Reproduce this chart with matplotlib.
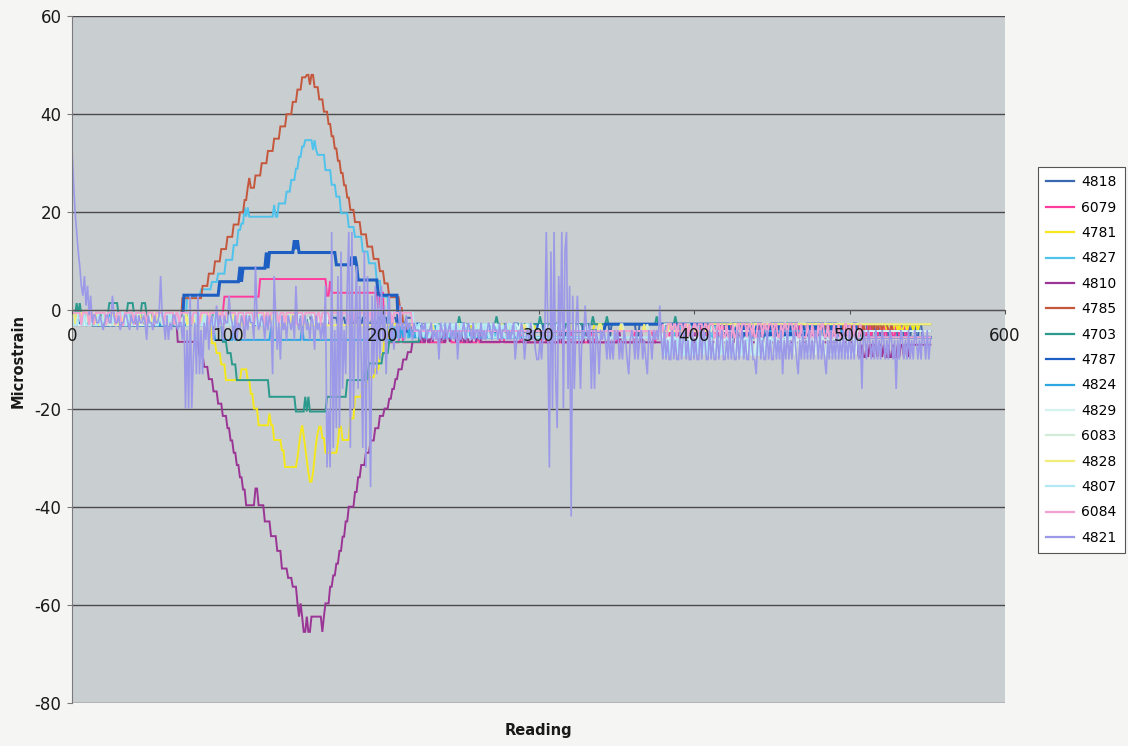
import numpy as np
import matplotlib
matplotlib.use("Agg")
import matplotlib.pyplot as plt
from matplotlib.lines import Line2D

plt.rcParams["axes.unicode_minus"] = False
plt.rcParams["font.family"] = ["DejaVu Sans"]

N_READINGS = 553
readings = np.arange(N_READINGS)

series_names = ["4818", "6079", "4781", "4827", "4810", "4785", "4703", "4787",
                "4824", "4829", "6083", "4828", "4807", "6084", "4821"]
series_colors = ["#3A68B0", "#FF3D9E", "#F4E81C", "#4FC3EC", "#9A3596", "#C4573C",
                 "#2B9A8C", "#1D5EC2", "#2DA6E3", "#D5F3EE", "#D3ECD8", "#F2EC78",
                 "#B3E8F5", "#F3A2CF", "#9C9AE8"]
series_widths = [1.4, 1.4, 1.4, 1.4, 1.4, 1.4, 1.4, 2.2, 1.4, 1.4, 1.4, 1.4, 1.4, 1.4, 1.2]

# Loaded gauges: (first reading, microstrain) held until the next entry
SHAPE_6079 = [(98, 2.8), (121, 6.4), (164, 3.0), (166, 6.0), (167, 3.6), (197, 0.5), (198, 3.6), (201, None)]
SHAPE_4781 = [(88, -3.0), (90, -6.7), (93, -8.7), (96, -11.0), (99, -14.2), (109, -12.0), (113, -14.2),
              (115, -17.0), (117, -20.0), (120, -23.4), (127, -21.0), (128, -23.4), (130, -26.4),
              (135, -28.5), (137, -31.9), (145, -30.0), (146, -27.5), (147, -25.0), (148, -23.4),
              (149, -25.5), (150, -28.0), (151, -30.5), (152, -33.0), (153, -34.9), (155, -33.0),
              (156, -30.0), (157, -27.0), (158, -25.0), (159, -23.7), (161, -26.0), (163, -29.0),
              (171, -27.0), (172, -23.7), (174, -26.4), (179, -22.0), (182, -17.6), (187, -15.5),
              (190, -13.6), (195, -12.0), (198, -9.0), (201, -6.0), (204, None)]
SHAPE_4827 = [(74, 2.8), (83, 4.3), (90, 5.8), (94, 7.5), (99, 10.3), (104, 13.3), (107, 16.4),
              (109, 17.7), (111, 21.0), (112, 19.1), (113, 21.0), (114, 19.1), (130, 21.5),
              (131, 19.1), (133, 21.8), (138, 24.2), (141, 26.6), (144, 28.9), (146, 31.3),
              (148, 33.4), (150, 34.7), (155, 32.7), (156, 34.7), (157, 32.7), (158, 31.7),
              (163, 28.6), (167, 25.6), (170, 23.2), (173, 19.8), (178, 17.0), (182, 15.0),
              (187, 12.0), (191, 9.6), (196, 6.0), (199, 2.8), (204, None)]
SHAPE_4810 = [(68, -6.4), (82, -9.0), (85, -11.5), (88, -14.0), (91, -16.5), (94, -19.0), (97, -21.5),
              (100, -24.0), (102, -26.5), (104, -29.0), (106, -31.5), (108, -34.0), (110, -36.5),
              (112, -39.7), (118, -36.3), (120, -39.7), (124, -43.0), (128, -46.0), (132, -49.0),
              (135, -52.6), (139, -54.5), (142, -56.3), (145, -59.7), (146, -62.4), (147, -59.7),
              (148, -62.4), (149, -65.5), (151, -62.4), (152, -65.5), (154, -62.4), (161, -65.5),
              (162, -62.4), (163, -59.7), (166, -56.3), (168, -54.0), (170, -51.6), (172, -49.0),
              (174, -46.1), (176, -43.0), (178, -40.0), (182, -37.0), (184, -34.0), (186, -31.5),
              (189, -29.0), (192, -26.5), (195, -24.0), (198, -21.5), (201, -20.0), (204, -18.0),
              (206, -16.0), (208, -14.0), (210, -12.0), (213, -10.0), (216, -8.5), (219, -6.4),
              (222, None)]
SHAPE_4785 = [(71, 2.5), (84, 5.0), (88, 7.5), (92, 10.0), (96, 12.5), (100, 15.0), (104, 17.5),
              (108, 20.0), (111, 22.5), (113, 25.0), (114, 27.0), (115, 25.0), (118, 27.5),
              (122, 30.0), (126, 32.5), (130, 35.0), (134, 37.5), (138, 40.0), (142, 42.5),
              (145, 45.0), (148, 47.5), (151, 48.0), (153, 46.0), (154, 48.0), (156, 45.5),
              (159, 43.0), (162, 40.5), (165, 38.0), (167, 35.5), (169, 33.0), (171, 30.5),
              (173, 28.0), (175, 25.5), (177, 23.0), (179, 20.5), (182, 18.0), (186, 15.5),
              (190, 13.0), (194, 10.5), (198, 8.0), (201, 5.5), (204, 2.7), (211, 0.5), (213, None)]
SHAPE_4703 = [(95, -3.0), (97, -6.4), (100, -8.7), (103, -11.0), (106, -14.2), (127, -17.6),
              (144, -20.6), (150, -17.6), (151, -20.6), (152, -17.6), (153, -20.6), (164, -17.6),
              (177, -14.2), (189, -12.0), (190, -14.2), (191, -10.8), (200, -8.7), (204, -6.4),
              (224, None)]
SHAPE_4787 = [(72, 3.1), (95, 5.85), (108, 8.9), (109, 5.85), (110, 8.6), (125, 11.8), (126, 8.6),
              (127, 11.8), (143, 14.3), (144, 12.5), (145, 14.3), (146, 11.8), (170, 9.3),
              (180, 11.0), (181, 9.3), (182, 11.0), (183, 9.3), (184, 6.2), (197, 3.1), (210, None)]
SHAPE_4824 = [(92, -6.0), (104, -3.0), (105, -6.0), (128, -3.5), (129, -6.0), (148, -3.0),
              (149, -6.0), (207, None)]

# Unloaded readings: (from, to, levels, run lengths in base 36 cycling through the levels)
BAND_4818 = [
    (0, 220, (-1.5, -3.0), "3212413221532143122314213251231421322153214231251324123142315231243121532412314213213241231"),
    (220, 417, (-2.8, -5.5), "k2a1f3c2h1d2b3e1g2f2c1a381"),
    (417, 553, (-2.8, -5.5), "322132214312231224132132231421322143221321432213224132213221"),
]
BAND_6079 = [
    (0, 98, (-0.5, -3.0), "6141217151326171415161217141516121"),
    (201, 380, (-6.5, -4.2), "a2f1c3h1e2b1d2g1c2f1ac242"),
    (380, 553, (-2.8, -5.5), "231221132123112213122132211321231221312213122132123112213223122113212312213122131221321"),
]
BAND_4781 = [
    (0, 88, (-1.5, -3.0), "9212b1321a2131c21412e13121"),
    (204, 240, (-2.8, -4.2), "2121312122131"),
    (240, 515, (-4.2, -2.8), "h1m2f1p1c2"),
    (515, 553, (-2.8, -4.2), "3121213121122131212"),
]
BAND_4827 = [
    (0, 74, (-0.5, -3.0), "3121412213151221413121312241"),
    (204, 330, (-2.8, -5.5), "1213212211321231221321123121322113212312"),
    (330, 380, (-4.2,), ""),
    (380, 440, (-2.8, -5.5), "21321123121322131221"),
    (440, 553, (-4.2,), ""),
]
BAND_4810 = [
    (0, 68, (-1.5, -3.0), "2131221412312213124121321"),
    (222, 290, (-6.4, -4.2), "3121211321221312112132121"),
    (290, 505, (-6.5, -4.2), "o1f2k1d1m2a1p1g1z"),
    (505, 553, (-7.0, -9.5), "1212112121211212121121212"),
]
BAND_4785 = [
    (0, 71, (-1.5, -3.0), "1312123212213122121312213212"),
    (213, 222, (-2.8, -4.2), "212121"),
    (222, 480, (-4.2,), ""),
    (480, 553, (-2.8, -4.2), "212113121221312121132121213212"),
]
BAND_4703 = [
    (0, 95, (-1.0, 1.5), "3111i66453z"),
    (224, 553, (-2.8, -1.2), "p1n1r1x181v1b1z"),
]
BAND_4787 = [
    (0, 72, (-1.5, -3.0), "4121312214131221"),
    (210, 420, (-4.2, -2.8), "c2f1a3e1h2d1b2g1c2"),
    (420, 553, (-2.8, -5.5), "3221413221331241322143122131423122141321"),
]
BAND_4824 = [
    (0, 92, (-0.5, -3.0), "2131221413122131241213"),
    (207, 330, (-5.5, -2.8), "2121131221213112122131212211312"),
    (330, 553, (-4.2,), ""),
]
BAND_4829 = [
    (0, 220, (-0.5, -3.0), "211312213141221312214312131221413122131241312213122141321312214131221312213122141312213"),
    (220, 380, (-4.2, -2.8), "31212214121322131214321213122134121312214131213212213121412"),
    (380, 505, (-5.5, -9.0), "21213122112131212213121122131212211312122131221121312122113121221312112213121221"),
    (505, 553, (-4.2,), ""),
]
BAND_6083 = [
    (0, 220, (-1.5, -3.0), "12314221312214131213221413122132412131221314213212241312213142122131241231422131"),
    (220, 553, (-4.2, -2.8), "a2f1c3h1e2b1d2g1c2f1a3c2e1d2b1"),
]
BAND_4828 = [
    (0, 220, (-0.5, -3.0), "21413122132141221312413212213141213221413122131214221312413122131214212131"),
    (220, 553, (-4.2, -2.8), "c1f2a1e3d1g2b1h2c1e1f2a1d2"),
]
BAND_4807 = [
    (0, 220, (-0.5, -3.0), "13221413122131412213214213122141312241312213121422131241312213141221312"),
    (220, 380, (-2.8, -5.5), "2131221312412131221321412213121322131421"),
    (380, 505, (-9.0, -5.5), "2121131221213112122131212211312122113121221312"),
    (505, 553, (-5.5,), ""),
]
BAND_6084 = [
    (0, 220, (-0.5, -3.0), "61412171513261714151612171415161217141516121513161417121516141317121615141713161415121"),
    (220, 380, (-4.2,), ""),
    (380, 553, (-2.8, -5.5), "1231213121122131213221121312213121123121312211213122131213112213121321121312"),
]

# Gauge 4821: one code per reading
LAV_KEYS = "0123456789abcdefghijklmn"
LAV_VALUES = [-1, -2.5, -4, -6, -8, -10, -13, -16, -20, -24, -28, -32, -36, -42,
              1, 3, 5, 7, 9, 12, 16, 20, 26, 33]
LAV_CODE = "".join([
    "nmlkjigfheg0f10",
    "01101210011", "f", "011021100120110201101", "3", "01120110", "h", "013031200121",
    "13082", "8f851", "6f626", "13041", "031e2", "01301",
    "1f01303120", "13020113i0", "2101302016", "h041502130", "1203g12031", "02130140213",
    "13gb8bka29", "h9j726gkak", "81i7g5ajbh", "6cf6g6f5g3", "e61f314213", "e21302123122",
    "2312132213", "2325123132", "1323152321", "3212313223", "1323212312", "2313221323",
    "2153231253", "2313245",
    "53523k2bj8", "k69h3k8jk7", "gdf72f3723", "e23172",
    "7236232352", "5352325352", "3563235253", "2535623523", "23e3525355", "2535525325",
    "3552535525", "2355253552", "5325535253", "5525325355", "2355632535", "5253552535",
    "2635253523", "5635253525", "3523525356", "3525352535", "2535253523", "5372352353",
    "5253523535", "2353735235", "3525352353", "5235253",
])


def expand_runs(levels, runs, length):
    vals = []
    for i, ch in enumerate(runs):
        vals.extend([levels[i % len(levels)]] * int(ch, 36))
    if not vals:
        vals = [levels[0]]
    vals = vals[:length]
    vals += [vals[-1]] * (length - len(vals))
    return vals


def build(shape=(), band=()):
    y = np.full(N_READINGS, np.nan)
    for (x0, v), (x1, _) in zip(shape[:-1], shape[1:]):
        y[x0:x1] = v
    for x0, x1, levels, runs in band:
        y[x0:x1] = expand_runs(levels, runs, x1 - x0)
    return y


lav_map = dict(zip(LAV_KEYS, LAV_VALUES))
lav = [lav_map[c] for c in LAV_CODE][:N_READINGS]
lav += [lav[-1]] * (N_READINGS - len(lav))

series_data = {
    "4818": build((), BAND_4818),
    "6079": build(SHAPE_6079, BAND_6079),
    "4781": build(SHAPE_4781, BAND_4781),
    "4827": build(SHAPE_4827, BAND_4827),
    "4810": build(SHAPE_4810, BAND_4810),
    "4785": build(SHAPE_4785, BAND_4785),
    "4703": build(SHAPE_4703, BAND_4703),
    "4787": build(SHAPE_4787, BAND_4787),
    "4824": build(SHAPE_4824, BAND_4824),
    "4829": build((), BAND_4829),
    "6083": build((), BAND_6083),
    "4828": build((), BAND_4828),
    "4807": build((), BAND_4807),
    "6084": build((), BAND_6084),
    "4821": np.array(lav, dtype=float),
}

x_ticks = [0, 100, 200, 300, 400, 500, 600]
y_ticks = [-80, -60, -40, -20, 0, 20, 40, 60]

fig = plt.figure(figsize=(11.28, 7.46), dpi=100, facecolor="#F5F5F3")
ax = fig.add_axes([72 / 1128, 1 - 703 / 746, (1005 - 72) / 1128, (703 - 16) / 746])
ax.set_facecolor("#C9CED1")
ax.set_xlim(0, 600)
ax.set_ylim(-80, 60)

for gy in y_ticks:
    ax.axhline(gy, color="#4A4A4A", lw=1.0, zorder=0.5)

for name, color, lw in zip(series_names, series_colors, series_widths):
    ax.plot(readings, series_data[name], color=color, lw=lw, solid_joinstyle="miter", zorder=2)

ax.set_axisbelow(False)
for s in ("top", "right"):
    ax.spines[s].set_visible(False)
ax.spines["left"].set_color("#7A7A7A")
ax.spines["bottom"].set_position(("data", 0))
ax.spines["bottom"].set_color("#555555")

ax.set_xticks(x_ticks)
ax.set_xticklabels([str(v) for v in x_ticks])
ax.set_yticks(y_ticks)
ax.set_yticklabels([str(v) for v in y_ticks])
ax.tick_params(axis="x", direction="out", length=3, pad=9, labelsize=12, colors="#555555",
               labelcolor="#1A1A1A")
ax.tick_params(axis="y", direction="out", length=3.5, pad=4, labelsize=12, colors="#7A7A7A",
               labelcolor="#1A1A1A")

fig.text(538.5 / 1128, 1 - 731 / 746, "Reading", ha="center", va="center",
         fontsize=10.5, fontweight="bold", color="#1A1A1A")
fig.text(18 / 1128, 1 - 361 / 746, "Microstrain", ha="center", va="center", rotation=90,
         fontsize=10.5, fontweight="bold", color="#1A1A1A")

handles = [Line2D([0], [0], color=c, lw=1.6) for c in series_colors]
leg = fig.legend(handles, series_names, loc="upper left",
                 bbox_to_anchor=(1038 / 1128, 1 - 167 / 746), bbox_transform=fig.transFigure,
                 borderaxespad=0, fontsize=10, handlelength=2.0, handletextpad=0.5,
                 labelspacing=0.82, borderpad=0.6, fancybox=False, framealpha=1,
                 facecolor="white", edgecolor="#555555")
leg.get_frame().set_linewidth(0.8)

fig.savefig("out.png", dpi=100, facecolor=fig.get_facecolor())
